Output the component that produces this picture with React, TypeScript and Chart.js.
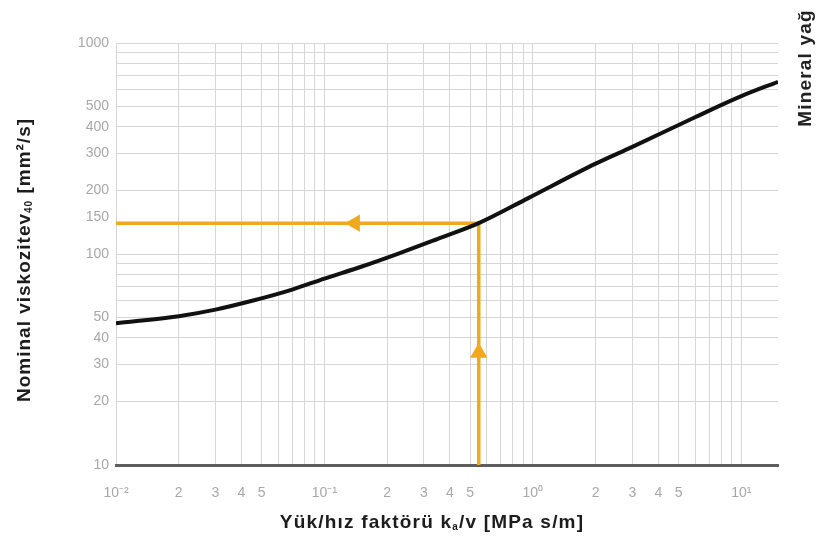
import React, { useEffect, useRef } from "react";
import { Chart, registerables } from "chart.js";

Chart.register(...registerables);

// Curve: load/speed factor (MPa s/m) vs nominal viscosity (mm²/s)
const loadSpeedFactor = [0.01, 0.02, 0.03, 0.045, 0.07, 0.1, 0.15, 0.23, 0.35, 0.55, 0.95, 2, 3, 6, 10, 15];
const viscosity = [47, 50.7, 54.5, 60, 67.8, 76.5, 87, 101, 118, 140, 184, 268, 322, 445, 560, 655];

// Reading example (orange guide)
const readFactor = 0.55;
const readViscosity = 140;
const arrowLeftAt = 0.14;
const arrowUpAt = 34;

// Axis ranges
const xMin = 0.01;
const xMax = 15;
const yMin = 10;
const yMax = 1000;

// Tick values and labels
const xTickValues = [
  0.01, 0.02, 0.03, 0.04, 0.05, 0.06, 0.07, 0.08, 0.09,
  0.1, 0.2, 0.3, 0.4, 0.5, 0.6, 0.7, 0.8, 0.9,
  1, 2, 3, 4, 5, 6, 7, 8, 9,
  10,
];
const xTickLabels = [
  "10⁻²", "2", "3", "4", "5", "", "", "", "",
  "10⁻¹", "2", "3", "4", "5", "", "", "", "",
  "10⁰", "2", "3", "4", "5", "", "", "", "",
  "10¹",
];
const yTickValues = [10, 20, 30, 40, 50, 60, 70, 80, 90, 100, 150, 200, 300, 400, 500, 600, 700, 800, 900, 1000];
const yTickLabels = ["10", "20", "30", "40", "50", "", "", "", "", "100", "150", "200", "300", "400", "500", "", "", "", "", "1000"];

const yTitleMain = "Nominal viskozitev";
const yTitleSub = "40";
const yTitleEnd = " [mm²/s]";
const xTitleMain = "Yük/hız faktörü k";
const xTitleSub = "a";
const xTitleEnd = "/v [MPa s/m]";
const sideLabel = "Mineral yağ";

const ORANGE = "#f0a81c";
const FONT = "'Liberation Sans', Arial, sans-serif";

type Part = { text: string; size: number; dy: number };

function drawParts(ctx: CanvasRenderingContext2D, parts: Part[], cx: number, cy: number, rot: number, spacing: number, weight: string, color: string) {
  ctx.save();
  ctx.translate(cx, cy);
  ctx.rotate(rot);
  ctx.fillStyle = color;
  ctx.textBaseline = "middle";
  ctx.textAlign = "left";
  (ctx as any).letterSpacing = spacing + "px";
  let total = 0;
  const widths = parts.map((p) => {
    ctx.font = `${weight} ${p.size}px ${FONT}`;
    const w = ctx.measureText(p.text).width;
    total += w;
    return w;
  });
  let x = -total / 2;
  parts.forEach((p, i) => {
    ctx.font = `${weight} ${p.size}px ${FONT}`;
    ctx.fillText(p.text, x, p.dy);
    x += widths[i];
  });
  ctx.restore();
}

const titlesPlugin = {
  id: "titles",
  afterDraw(chart: any) {
    const ctx = chart.ctx as CanvasRenderingContext2D;
    const area = chart.chartArea;
    // y axis title
    drawParts(
      ctx,
      [
        { text: yTitleMain, size: 19, dy: 0 },
        { text: yTitleSub, size: 10, dy: 4 },
        { text: yTitleEnd, size: 19, dy: 0 },
      ],
      25,
      (area.top + area.bottom) / 2 + 6,
      -Math.PI / 2,
      1,
      "bold",
      "#1c1c1c"
    );
    // x axis title
    drawParts(
      ctx,
      [
        { text: xTitleMain, size: 19, dy: 0 },
        { text: xTitleSub, size: 10, dy: 4 },
        { text: xTitleEnd, size: 19, dy: 0 },
      ],
      (area.left + area.right) / 2 - 15,
      523,
      0,
      1.2,
      "bold",
      "#1c1c1c"
    );
    // side label
    drawParts(ctx, [{ text: sideLabel, size: 19, dy: 0 }], 806, 68, -Math.PI / 2, 1.2, "bold", "#222");
  },
};

export default function App() {
  const ref = useRef<HTMLCanvasElement | null>(null);

  useEffect(() => {
    if (!ref.current) return;
    const gridColor = (c: any) => (c.tick && c.tick.value === 150 ? "rgba(0,0,0,0)" : "#d6d6d6");
    const chart = new Chart(ref.current, {
      type: "line",
      data: {
        datasets: [
          {
            data: loadSpeedFactor.map((x, i) => ({ x, y: viscosity[i] })),
            borderColor: "#111",
            borderWidth: 4,
            pointRadius: 0,
            cubicInterpolationMode: "monotone",
            order: 0,
          },
          {
            data: [
              { x: xMin, y: readViscosity },
              { x: readFactor, y: readViscosity },
            ],
            borderColor: ORANGE,
            borderWidth: 3.5,
            pointRadius: 0,
            order: 1,
          },
          {
            data: [
              { x: readFactor, y: yMin },
              { x: readFactor, y: readViscosity },
            ],
            borderColor: ORANGE,
            borderWidth: 3.5,
            pointRadius: 0,
            order: 1,
          },
          {
            data: [{ x: arrowLeftAt, y: readViscosity }],
            showLine: false,
            pointStyle: "triangle",
            rotation: -90,
            pointRadius: 10,
            pointBorderWidth: 0,
            pointBackgroundColor: ORANGE,
            pointBorderColor: ORANGE,
            order: 1,
          },
          {
            data: [{ x: readFactor, y: arrowUpAt }],
            showLine: false,
            pointStyle: "triangle",
            rotation: 0,
            pointRadius: 10,
            pointBorderWidth: 0,
            pointBackgroundColor: ORANGE,
            pointBorderColor: ORANGE,
            order: 1,
          },
        ],
      } as any,
      options: {
        responsive: false,
        animation: false,
        events: [],
        layout: { padding: { left: 0, right: 46, top: 43, bottom: 0 } },
        plugins: { legend: { display: false }, tooltip: { enabled: false }, title: { display: false } },
        scales: {
          x: {
            type: "logarithmic",
            min: xMin,
            max: xMax,
            afterBuildTicks: (s: any) => {
              s.ticks = xTickValues.map((v) => ({ value: v }));
            },
            afterFit: (s: any) => {
              s.height = 84;
            },
            ticks: {
              autoSkip: false,
              maxRotation: 0,
              minRotation: 0,
              padding: 20,
              color: "#a8a8a8",
              font: { family: FONT, size: 14 },
              callback: (_v: any, i: number) => xTickLabels[i],
            },
            grid: { color: "#d6d6d6", lineWidth: 1, drawTicks: false },
            border: { display: true, color: "#5e5e5e", width: 3 },
          },
          y: {
            type: "logarithmic",
            min: yMin,
            max: yMax,
            afterBuildTicks: (s: any) => {
              s.ticks = yTickValues.map((v) => ({ value: v }));
            },
            afterFit: (s: any) => {
              s.width = 116;
            },
            ticks: {
              autoSkip: false,
              padding: 7,
              color: "#a8a8a8",
              font: { family: FONT, size: 14 },
              callback: (_v: any, i: number) => yTickLabels[i],
            },
            grid: { color: gridColor, lineWidth: 1, drawTicks: false },
            border: { display: false },
          },
        },
      } as any,
      plugins: [titlesPlugin],
    });
    return () => chart.destroy();
  }, []);

  return (
    <div style={{ position: "absolute", left: 0, top: 0, width: 824, height: 549, background: "#fff" }}>
      <canvas ref={ref} width={824} height={549} style={{ width: 824, height: 549, display: "block" }} />
    </div>
  );
}
